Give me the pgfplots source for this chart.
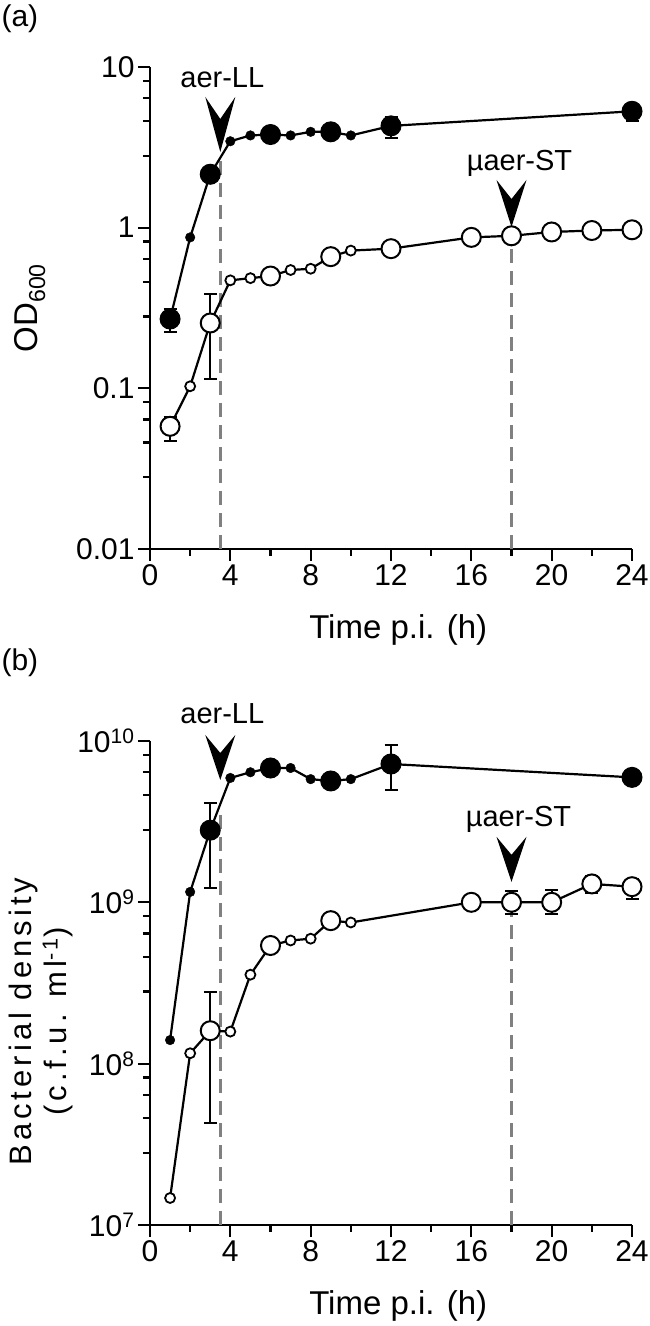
\documentclass[border=0pt]{standalone}
\usepackage{fontspec}
\setmainfont{Liberation Sans}
\usepackage{pgfplots}
\usepackage{pgfplotstable}
\pgfplotsset{compat=1.18}

% ---------- panel (a): OD600 ----------
\pgfplotstableread{
x y
1 0.27
2 0.87
3 2.15
4 3.45
5 3.75
6 3.8
7 3.75
8 3.95
9 3.95
10 3.75
12 4.3
24 5.3
}\aFline
\pgfplotstableread{
x y ep em
1 0.27 0.04 0.045
3 2.15 0.1 0.1
6 3.8 0.1 0.1
9 3.95 0.1 0.1
12 4.3 0.6 0.7
24 5.3 0.5 0.7
}\aFbig
\pgfplotstableread{
x y
2 0.87
4 3.45
5 3.75
7 3.75
8 3.95
10 3.75
}\aFsmall
\pgfplotstableread{
x y
1 0.058
2 0.103
3 0.255
4 0.47
5 0.485
6 0.50
7 0.545
8 0.555
9 0.66
10 0.72
12 0.74
16 0.87
18 0.89
20 0.94
22 0.96
24 0.97
}\aOline
\pgfplotstableread{
x y ep em
1 0.058 0.008 0.011
3 0.255 0.13 0.14
6 0.50 0.02 0.02
9 0.66 0.02 0.02
12 0.74 0.06 0.06
16 0.87 0.02 0.02
18 0.89 0.02 0.02
20 0.94 0.02 0.02
22 0.96 0.02 0.02
24 0.97 0.02 0.02
}\aObig
\pgfplotstableread{
x y
2 0.103
4 0.47
5 0.485
7 0.545
8 0.555
10 0.72
}\aOsmall

% ---------- panel (b): cfu/ml ----------
\pgfplotstableread{
x y
1 1.4e8
2 1.16e9
3 2.8e9
4 5.9e9
5 6.4e9
6 6.8e9
7 6.8e9
8 5.8e9
9 5.65e9
10 5.8e9
12 7.2e9
24 5.95e9
}\bFline
\pgfplotstableread{
x y ep em
3 2.8e9 1.35e9 1.58e9
6 6.8e9 0.2e9 0.2e9
9 5.65e9 0.2e9 0.2e9
12 7.2e9 2.3e9 2.2e9
24 5.95e9 0.2e9 0.2e9
}\bFbig
\pgfplotstableread{
x y
1 1.4e8
2 1.16e9
4 5.9e9
5 6.4e9
7 6.8e9
8 5.8e9
10 5.8e9
}\bFsmall
\pgfplotstableread{
x y
1 1.47e7
2 1.16e8
3 1.6e8
4 1.58e8
5 3.56e8
6 5.4e8
7 5.8e8
8 5.95e8
9 7.7e8
10 7.5e8
16 1.0e9
18 1.0e9
20 1.0e9
22 1.3e9
24 1.25e9
}\bOline
\pgfplotstableread{
x y ep em
3 1.6e8 1.2e8 1.17e8
6 5.4e8 0.2e8 0.2e8
9 7.7e8 0.2e8 0.2e8
16 1.0e9 0.03e9 0.03e9
18 1.0e9 0.18e9 0.15e9
20 1.0e9 0.2e9 0.15e9
22 1.3e9 0.15e9 0.15e9
24 1.25e9 0.15e9 0.2e9
}\bObig
\pgfplotstableread{
x y
1 1.47e7
2 1.16e8
4 1.58e8
5 3.56e8
7 5.8e8
8 5.95e8
10 7.5e8
}\bOsmall

\newcommand\bigfont{\fontsize{30bp}{33bp}\selectfont}
\newcommand\labfont{\fontsize{33bp}{36bp}\selectfont}
\newcommand\annfont{\fontsize{29bp}{32bp}\selectfont}
\newcommand\ylabfont{\fontsize{31bp}{35bp}\selectfont\addfontfeature{LetterSpace=13}}

\pgfplotsset{
  mydataline/.style={black, line width=2.2bp, mark=none},
  mydash/.style={color=black!50, line width=3bp, dash pattern=on 14bp off 8bp},
  myerr/.style={error bars/y dir=both, error bars/y explicit,
    error bars/error bar style={line width=2bp, black, solid},
    error bars/error mark options={rotate=90, mark size=6.5bp, line width=2bp, black}},
  mybigF/.style={only marks, mark=*, mark size=10bp, mark options={fill=black, draw=black, line width=1bp}, myerr},
  mybigO/.style={only marks, mark=*, mark size=9.5bp, mark options={fill=white, draw=black, line width=2bp}, myerr},
  mysmallF/.style={only marks, mark=*, mark size=4.8bp, mark options={fill=black, draw=black}},
  mysmallO/.style={only marks, mark=*, mark size=5bp, mark options={fill=white, draw=black, line width=1.8bp}},
}

\begin{document}
\begin{tikzpicture}
\useasboundingbox (0,0) rectangle (650bp,1326bp);

% ================= (a) =================
\begin{axis}[
  scale only axis, width=482bp, height=482bp,
  at={(150bp,777bp)}, anchor=south west,
  ymode=log, axis lines=left,
  axis line style={-, line width=2.3bp},
  xmin=0, xmax=24,
  xtick={0,4,8,12,16,20,24}, xticklabels={0,4,8,12,16,20,24},
  minor xtick={2,6,10,14,18,22},
  tick align=outside,
  major tick length=12bp, minor tick length=7bp,
  every tick/.style={black, line width=2.2bp},
  ticklabel style={font=\bigfont},
  clip=false,
  ymin=0.01, ymax=10,
  ytick={0.01,0.1,1,10}, yticklabels={0.01,0.1,1,10},
  minor ytick={0.028,0.046,0.064,0.082,0.28,0.46,0.64,0.82,2.8,4.6,6.4,8.2},
  xlabel={Time p.i. (h)},
  ylabel={OD\textsubscript{600}},
  ylabel style={font=\labfont, at={(axis description cs:-0.249,0.5)}, anchor=center},
  xlabel style={font=\labfont, at={(axis description cs:0.515,-0.185)}, anchor=base},
]
\addplot[mydash] coordinates {(3.5,0.01) (3.5,2.75)};
\addplot[mydash] coordinates {(18,0.01) (18,0.89)};
\addplot[mydataline] table {\aFline};
\addplot[mydataline] table {\aOline};
\addplot[mybigF] table[x=x,y=y,y error plus=ep,y error minus=em] {\aFbig};
\addplot[mysmallF] table {\aFsmall};
\addplot[mybigO] table[x=x,y=y,y error plus=ep,y error minus=em] {\aObig};
\addplot[mysmallO] table {\aOsmall};
\fill[black] (axis cs:3.5,2.96) -- ++(-15bp,55bp) -- ++(15bp,-22bp) -- ++(15bp,22bp) -- cycle;
\node[font=\annfont] at ([shift={(2bp,74bp)}]axis cs:3.5,2.96) {aer-LL};
\fill[black] (axis cs:18,1.01) -- ++(-15bp,47bp) -- ++(15bp,-19bp) -- ++(15bp,19bp) -- cycle;
\node[font=\annfont] at ([shift={(8bp,64bp)}]axis cs:18,1.01) {µaer-ST};
\node[font=\bigfont] at (axis description cs:-0.27,1.10) {(a)};
\end{axis}

% ================= (b) =================
\begin{axis}[
  scale only axis, width=482bp, height=484bp,
  at={(150bp,101bp)}, anchor=south west,
  ymode=log, axis lines=left,
  axis line style={-, line width=2.3bp},
  xmin=0, xmax=24,
  xtick={0,4,8,12,16,20,24}, xticklabels={0,4,8,12,16,20,24},
  minor xtick={2,6,10,14,18,22},
  tick align=outside,
  major tick length=12bp, minor tick length=7bp,
  every tick/.style={black, line width=2.2bp},
  ticklabel style={font=\bigfont},
  clip=false,
  ymin=1e7, ymax=1e10,
  ytick={1e7,1e8,1e9,1e10},
  yticklabels={10\textsuperscript{7},10\textsuperscript{8},10\textsuperscript{9},10\textsuperscript{10}},
  minor ytick={2.8e7,4.6e7,6.4e7,8.2e7,2.8e8,4.6e8,6.4e8,8.2e8,2.8e9,4.6e9,6.4e9,8.2e9},
  xlabel={Time p.i. (h)},
  ylabel={Bacterial density\\(c.f.u. ml\textsuperscript{-1})},
  ylabel style={font=\ylabfont, at={(axis description cs:-0.226,0.42)}, anchor=center, align=center},
  xlabel style={font=\labfont, at={(axis description cs:0.515,-0.184)}, anchor=base},
]
\addplot[mydash] coordinates {(3.5,1e7) (3.5,3.84e9)};
\addplot[mydash] coordinates {(18,1e7) (18,1.0e9)};
\addplot[mydataline] table {\bFline};
\addplot[mydataline] table {\bOline};
\addplot[mybigF] table[x=x,y=y,y error plus=ep,y error minus=em] {\bFbig};
\addplot[mysmallF] table {\bFsmall};
\addplot[mybigO] table[x=x,y=y,y error plus=ep,y error minus=em] {\bObig};
\addplot[mysmallO] table {\bOsmall};
\fill[black] (axis cs:3.5,5.73e9) -- ++(-15bp,45bp) -- ++(15bp,-18bp) -- ++(15bp,18bp) -- cycle;
\node[font=\annfont] at ([shift={(2bp,66bp)}]axis cs:3.5,5.73e9) {aer-LL};
\fill[black] (axis cs:18,1.34e9) -- ++(-15bp,45bp) -- ++(15bp,-18bp) -- ++(15bp,18bp) -- cycle;
\node[font=\annfont] at ([shift={(7bp,62bp)}]axis cs:18,1.34e9) {µaer-ST};
\node[font=\bigfont] at (axis description cs:-0.27,1.161) {(b)};
\end{axis}
\end{tikzpicture}
\end{document}
